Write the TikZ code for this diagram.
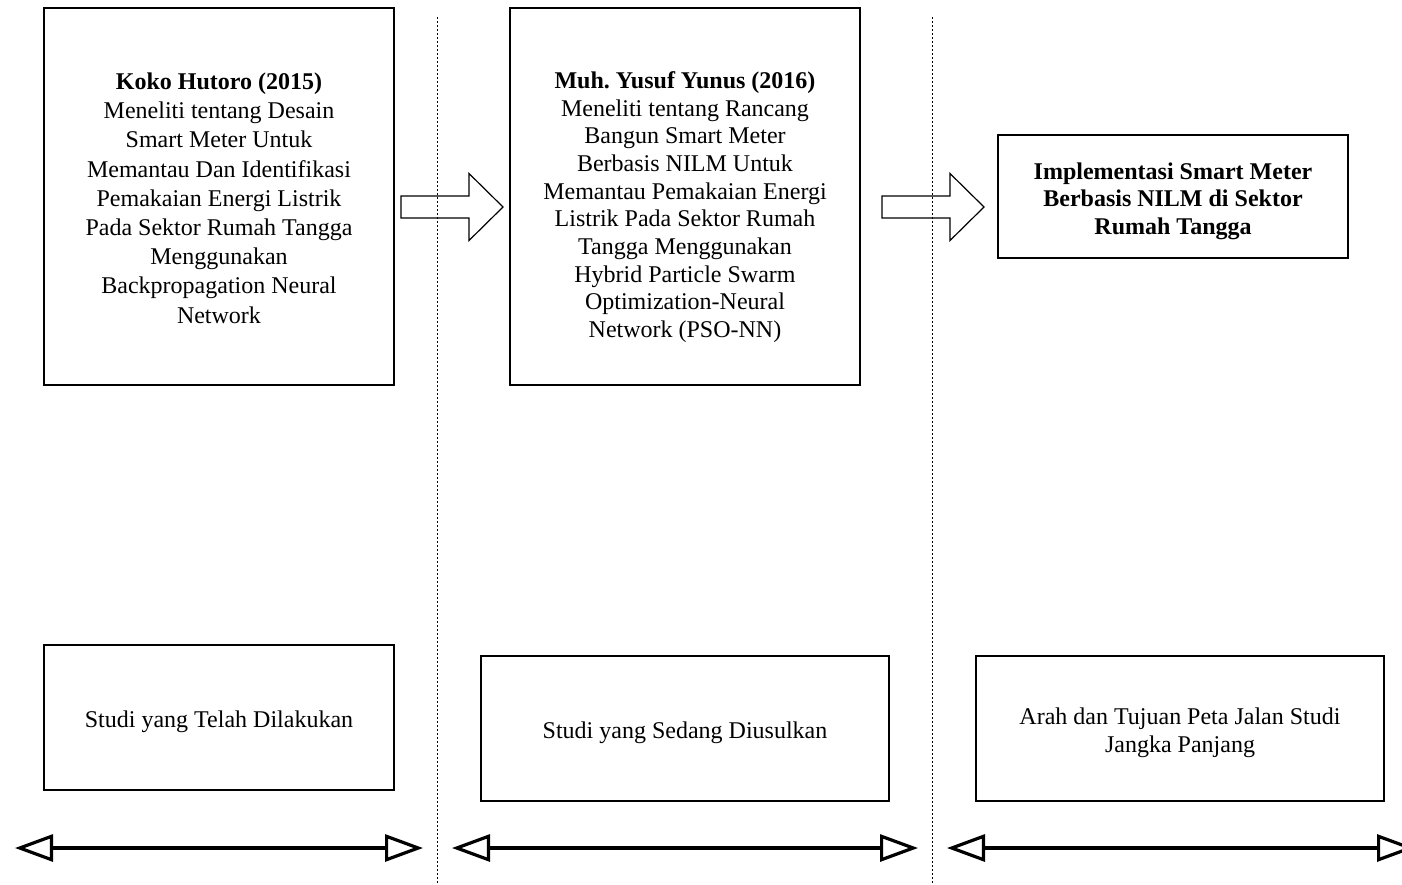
\documentclass[tikz,border=0pt]{standalone}
\usepackage{fontspec}
\setmainfont{Liberation Serif}
\usepackage{tikz}
\usetikzlibrary{arrows.meta}
\tikzstyle{kotak}=[draw, line width=0.6pt, inner sep=0pt, outer sep=0pt,
  align=center, minimum width=175pt, font=\fontsize{12}{14}\selectfont]
\tikzstyle{studi}=[kotak, minimum height=188.5pt]
\tikzstyle{kotakBawah}=[kotak, minimum height=72.5pt]
\tikzstyle{batas}=[line width=0.5pt, dash pattern=on 1pt off 1pt]
\tikzstyle{panahBlok}=[draw, line width=0.6pt, line join=miter]
\tikzstyle{rentang}=[line width=1.6pt,
  {Triangle[open,length=19pt,width=13.5pt]}-{Triangle[open,length=19pt,width=13.5pt]}]
\newcommand{\turun}[1]{\rule{0pt}{#1}}
\newcommand{\panah}[1]{%
  \path[panahBlok] (#1) ++(0,-11) -- ++(68,0) -- ++(0,-22.5) -- ++(34,33.5)
    -- ++(-34,33.5) -- ++(0,-22.5) -- ++(-68,0) -- cycle;}
\begin{document}
\begin{tikzpicture}[x=0.5pt,y=-0.5pt]
  \useasboundingbox (0,0) rectangle (1402,884);

  % Dotted separators
  \coordinate (s1a) at (437,17);  \coordinate (s1b) at (437,884);
  \coordinate (s2a) at (932,17);  \coordinate (s2b) at (932,884);
  \draw[batas] (s1a) -- (s1b);
  \draw[batas] (s2a) -- (s2b);

  % Study boxes
  \node (p1) [studi, font=\fontsize{12}{14.6}\selectfont] at (219,196.5)
    {\turun{10pt}\textbf{Koko Hutoro (2015)}\\Meneliti tentang Desain\\Smart Meter Untuk\\Memantau Dan Identifikasi\\Pemakaian Energi Listrik\\Pada Sektor Rumah Tangga\\Menggunakan\\Backpropagation Neural\\Network};
  \node (p2) [studi, font=\fontsize{12}{13.85}\selectfont] at (685,196.5)
    {\turun{19pt}\textbf{Muh.\ Yusuf Yunus (2016)}\\Meneliti tentang Rancang\\Bangun Smart Meter\\Berbasis NILM Untuk\\Memantau Pemakaian Energi\\Listrik Pada Sektor Rumah\\Tangga Menggunakan\\Hybrid Particle Swarm\\Optimization-Neural\\Network (PSO-NN)};
  \node (p3) [kotak, minimum height=61.5pt, font=\fontsize{12}{13.75}\selectfont] at (1173,196.5)
    {\turun{13pt}\textbf{Implementasi Smart Meter}\\\textbf{Berbasis NILM di Sektor}\\\textbf{Rumah Tangga}};

  % Block arrows between boxes
  \coordinate (a1) at (401,207);
  \coordinate (a2) at (882,207);
  \panah{a1}
  \panah{a2}

  % Phase boxes
  \node (b1) [kotakBawah] at (219,717.5) {\turun{12.5pt}Studi yang Telah Dilakukan};
  \node (b2) [kotakBawah, minimum width=204pt] at (685,728.5) {\turun{12.5pt}Studi yang Sedang Diusulkan};
  \node (b3) [kotakBawah, minimum width=204pt] at (1180,728.5)
    {\turun{12.5pt}Arah dan Tujuan Peta Jalan Studi\\Jangka Panjang};

  % Span arrows
  \coordinate (l1) at (15,848);   \coordinate (r1) at (423,848);
  \coordinate (l2) at (452,848);  \coordinate (r2) at (918,848);
  \coordinate (l3) at (947,848);  \coordinate (r3) at (1415,848);
  \draw[rentang] (l1) -- (r1);
  \draw[rentang] (l2) -- (r2);
  \draw[rentang] (l3) -- (r3);
\end{tikzpicture}
\end{document}
